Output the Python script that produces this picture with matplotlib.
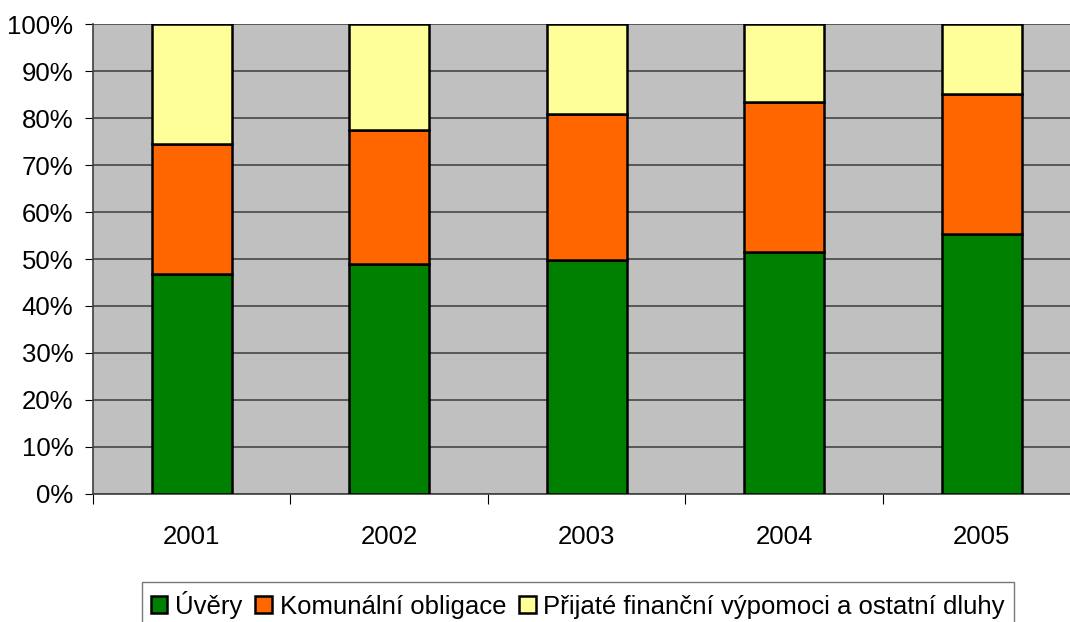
import numpy as np
import matplotlib
matplotlib.use("Agg")
import matplotlib.pyplot as plt
from matplotlib.ticker import FixedLocator, PercentFormatter

plt.rcParams['font.family'] = ['Liberation Sans', 'DejaVu Sans']

years = ["2001", "2002", "2003", "2004", "2005"]
uvery = [46.8, 48.9, 49.8, 51.5, 55.3]
obligace = [27.7, 28.5, 31.1, 31.9, 29.8]
ostatni = [100 - a - b for a, b in zip(uvery, obligace)]

series = [
    ("Úvěry", uvery, "#008000"),
    ("Komunální obligace", obligace, "#FF6600"),
    ("Přijaté finanční výpomoci a ostatní dluhy", ostatni, "#FFFF99"),
]

fig = plt.figure(figsize=(10.7, 6.22), dpi=100)
# plot area runs a little past the right edge, as in the original
ax = fig.add_axes([0.0867, 0.2058, 0.9229, 0.7556])
ax.set_facecolor("#C0C0C0")

x = np.arange(len(years))
bottom = np.zeros(len(years))
for name, vals, col in series:
    ax.bar(x, vals, 0.405, bottom=bottom, color=col, edgecolor="black",
           linewidth=1.8, label=name, zorder=3)
    bottom += np.array(vals)

ax.set_xlim(-0.5, len(years) - 0.5)
ax.set_ylim(0, 100)
ax.set_yticks(np.arange(0, 101, 10))
ax.yaxis.set_major_formatter(PercentFormatter(decimals=0))
ax.yaxis.grid(True, color="#505050", linewidth=1.3, zorder=1)

# category boundaries as major ticks, names on minor ticks
ax.xaxis.set_major_locator(FixedLocator(np.arange(-0.5, len(years), 1)))
ax.xaxis.set_minor_locator(FixedLocator(x))
ax.set_xticklabels([], minor=False)
ax.set_xticklabels(years, minor=True)
ax.tick_params(axis="x", which="major", length=7, direction="out", color="black")
ax.tick_params(axis="x", which="minor", length=0, pad=22, labelsize=18.5)
ax.tick_params(axis="y", length=6, direction="out", labelsize=18.5, pad=8)

for s in ["top", "right"]:
    ax.spines[s].set_visible(False)
ax.spines["left"].set_color("#404040")
ax.spines["bottom"].set_color("#404040")
ax.spines["left"].set_linewidth(1.2)
ax.spines["bottom"].set_linewidth(1.2)

leg = fig.legend(loc="lower center", bbox_to_anchor=(0.540, -0.03), ncol=3,
                 frameon=True, fancybox=False, edgecolor="#555555", fontsize=18.5,
                 handlelength=0.65, handleheight=0.65, handletextpad=0.3,
                 columnspacing=0.5, borderpad=0.35)
leg.get_frame().set_linewidth(1.0)

fig.savefig("out.png", dpi=100)
